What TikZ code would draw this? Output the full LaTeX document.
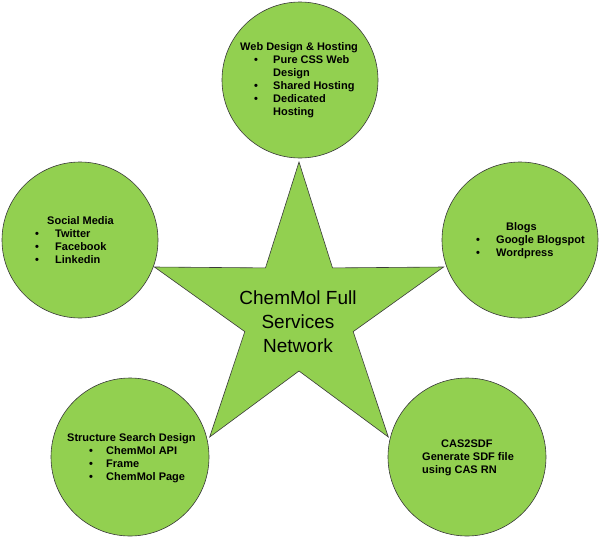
\documentclass[tikz,border=0pt]{standalone}
\usepackage{fontspec}
\setmainfont{Liberation Sans}
\definecolor{leaf}{HTML}{92D050}
\definecolor{edge}{HTML}{3A3A3A}
\begin{document}
\begin{tikzpicture}[x=1pt,y=-1pt,
  bubble/.style={circle, draw=edge, line width=0.6pt, fill=leaf, minimum size=156pt, inner sep=0pt},
  starshape/.style={draw=edge, line width=0.6pt, fill=leaf, line join=miter},
  lbl/.style={inner sep=0pt, font=\bfseries\fontsize{11}{13}\selectfont, anchor=base west},
  hub/.style={inner sep=0pt, font=\fontsize{19}{24}\selectfont, anchor=base}]
\useasboundingbox (0,0) rectangle (600,536);
% circles
\node[bubble] (web) at (300,80) {};
\node[bubble] (social) at (80,240) {};
\node[bubble] (blogs) at (520,240) {};
\node[bubble, minimum size=158pt] (search) at (130,457) {};
\node[bubble, minimum size=158pt] (cas) at (467,457) {};
% star
\coordinate (sc) at (299,314);
\path[starshape] (299,162) -- (332.5,267.9) -- (443.6,267) -- (353.2,331.6) -- (388.3,437)
  -- (299,371) -- (209.7,437) -- (244.8,331.6) -- (154.4,267) -- (265.5,267.9) -- cycle;
\node[hub] (hubtxt) at (298,304) {\begin{tabular}[t]{@{}c@{}}ChemMol Full\\Services\\Network\end{tabular}};
% texts
\node[lbl] (webtxt) at (240,50) {\begin{tabular}[t]{@{}l@{}}Web Design \& Hosting\\
\hspace*{14pt}\makebox[19pt][l]{\textbullet}Pure CSS Web\\
\hspace*{33pt}Design\\
\hspace*{14pt}\makebox[19pt][l]{\textbullet}Shared Hosting\\
\hspace*{14pt}\makebox[19pt][l]{\textbullet}Dedicated\\
\hspace*{33pt}Hosting\end{tabular}};
\node[lbl] (socialtxt) at (35,224) {\begin{tabular}[t]{@{}l@{}}\hspace*{12pt}Social Media\\
\makebox[20pt][l]{\textbullet}Twitter\\
\makebox[20pt][l]{\textbullet}Facebook\\
\makebox[20pt][l]{\textbullet}Linkedin\end{tabular}};
\node[lbl] (blogstxt) at (476,230) {\begin{tabular}[t]{@{}l@{}}\hspace*{30pt}Blogs\\
\makebox[20pt][l]{\textbullet}Google Blogspot\\
\makebox[20pt][l]{\textbullet}Wordpress\end{tabular}};
\node[lbl] (searchtxt) at (67,441) {\begin{tabular}[t]{@{}l@{}}Structure Search Design\\
\hspace*{22pt}\makebox[17pt][l]{\textbullet}ChemMol API\\
\hspace*{22pt}\makebox[17pt][l]{\textbullet}Frame\\
\hspace*{22pt}\makebox[17pt][l]{\textbullet}ChemMol Page\end{tabular}};
\node[lbl] (castxt) at (422,447) {\begin{tabular}[t]{@{}l@{}}\hspace*{19pt}CAS2SDF\\
Generate SDF file\\
using CAS RN\end{tabular}};
\end{tikzpicture}
\end{document}
